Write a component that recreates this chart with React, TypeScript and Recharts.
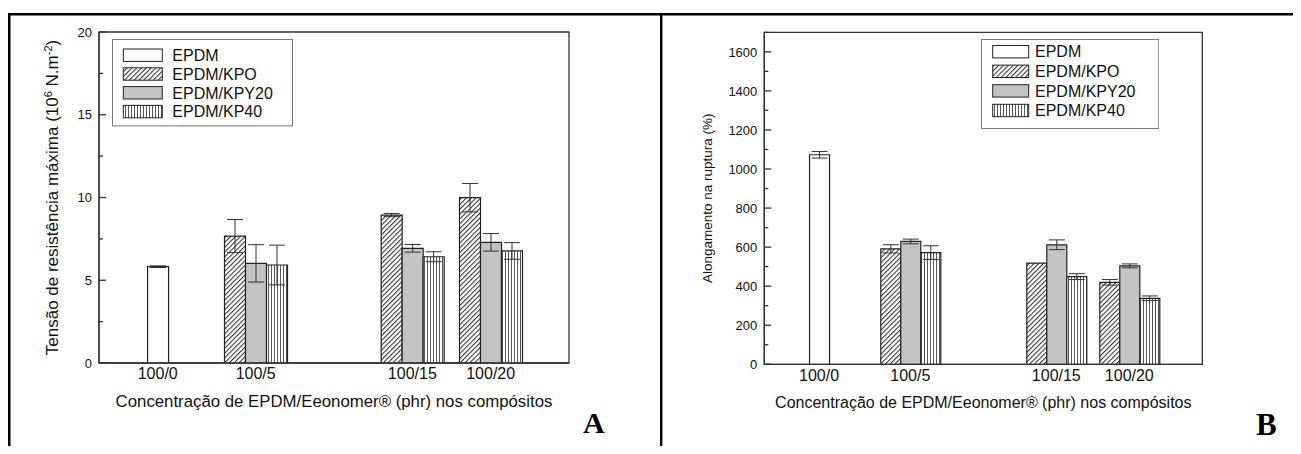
import React from 'react';
import { BarChart, Bar, XAxis, YAxis, ErrorBar, Legend, ReferenceArea } from 'recharts';

// groups on the x axis (positions, axis runs 0..12)
const categories = ['100/0', '100/5', '100/15', '100/20'];
const groupPositions = [1.5, 4, 8, 10];

const seriesNames = ['EPDM', 'EPDM/KPO', 'EPDM/KPY20', 'EPDM/KP40'];

// A: tensão de resistência máxima (10^6 N.m^-2)
const tensaoEPDM = [5.82, null, null, null];
const tensaoEPDMErr = [0.05, null, null, null];
const tensaoKPO = [null, 7.67, 8.94, 9.99];
const tensaoKPOErr = [null, 1.0, 0.1, 0.86];
const tensaoKPY20 = [null, 6.02, 6.93, 7.29];
const tensaoKPY20Err = [null, 1.13, 0.23, 0.53];
const tensaoKP40 = [null, 5.92, 6.42, 6.77];
const tensaoKP40Err = [null, 1.2, 0.3, 0.5];
const yTicksA = [0, 2.5, 5, 7.5, 10, 12.5, 15, 17.5, 20];

// B: alongamento na ruptura (%)
const alongEPDM = [1073, null, null, null];
const alongEPDMErr = [17, null, null, null];
const alongKPO = [null, 591, 518, 420];
const alongKPOErr = [null, 21, null, 14];
const alongKPY20 = [null, 629, 612, 504];
const alongKPY20Err = [null, 12, 25, 10];
const alongKP40 = [null, 572, 449, 338];
const alongKP40Err = [null, 35, 15, 12];
const yTicksB = [0, 100, 200, 300, 400, 500, 600, 700, 800, 900, 1000, 1100, 1200, 1300, 1400, 1500, 1600, 1700];

const xTitle = 'Concentração de EPDM/Eeonomer® (phr) nos compósitos';
const FONT = "Arial, 'Liberation Sans', sans-serif";
const TICK_MARGIN = 7;

function buildRows(vals: (number | null)[][], errs: (number | null)[][]) {
  return categories.map((cat, i) => ({
    cat,
    pos: groupPositions[i],
    epdm: vals[0][i],
    epdmErr: errs[0][i],
    kpo: vals[1][i],
    kpoErr: errs[1][i],
    kpy20: vals[2][i],
    kpy20Err: errs[2][i],
    kp40: vals[3][i],
    kp40Err: errs[3][i],
  }));
}

const dataA = buildRows(
  [tensaoEPDM, tensaoKPO, tensaoKPY20, tensaoKP40],
  [tensaoEPDMErr, tensaoKPOErr, tensaoKPY20Err, tensaoKP40Err]
);
const dataB = buildRows(
  [alongEPDM, alongKPO, alongKPY20, alongKP40],
  [alongEPDMErr, alongKPOErr, alongKPY20Err, alongKP40Err]
);

// labels for the major ticks, short inward marks for every tick
function YTick(props: any) {
  const { x, y, payload, majorStep } = props;
  const v = payload.value;
  const major = Math.abs(v / majorStep - Math.round(v / majorStep)) < 1e-6;
  const ax = Number(x) + TICK_MARGIN;
  return (
    <g>
      <path d={`M${ax},${y}h${major ? 7 : 4}`} stroke="#333" strokeWidth={1.3} fill="none" />
      {major && (
        <text x={x} y={y} dy="0.36em" textAnchor="end" fontSize={13} fontFamily={FONT} fill="#111">
          {v}
        </text>
      )}
    </g>
  );
}

function LegendBox({ cfg, fills }: any) {
  return (
    <svg width={cfg.w} height={cfg.h} style={{ display: 'block' }}>
      <rect x={0.5} y={0.5} width={cfg.w - 1} height={cfg.h - 1} fill="#fff" stroke="#777" />
      {seriesNames.map((n, i) => {
        const cy = cfg.firstRow + i * cfg.rowGap;
        return (
          <g key={n}>
            <rect x={cfg.swX} y={cy - 6.2} width={cfg.swW} height={12.4} fill={fills[i]} stroke="#222" strokeWidth={1} />
            <text x={cfg.textX} y={cy} dy="0.36em" fontSize={16} fontFamily={FONT} fill="#111">
              {n}
            </text>
          </g>
        );
      })}
    </svg>
  );
}

function Panel({ id, data, width, margin, yMax, yTicks, majorStep, barSize, yLabel, yLabelX, yLabelSize, xTitleSize, legend }: any) {
  const fills = ['#fff', `url(#diag-${id})`, '#c4c4c4', `url(#vert-${id})`];
  return (
    <BarChart width={width} height={454} data={data} margin={margin} barGap={0}>
      <defs>
        <pattern id={`diag-${id}`} width="3.4" height="3.4" patternUnits="userSpaceOnUse" patternTransform="rotate(45)">
          <rect width="3.4" height="3.4" fill="#fff" />
          <line x1="0.5" y1="0" x2="0.5" y2="3.4" stroke="#333" strokeWidth="1.1" />
        </pattern>
        <pattern id={`vert-${id}`} width="3" height="10" patternUnits="userSpaceOnUse">
          <rect width="3" height="10" fill="#fff" />
          <line x1="1.5" y1="0" x2="1.5" y2="10" stroke="#444" strokeWidth="0.9" />
        </pattern>
      </defs>
      <XAxis
        dataKey="pos"
        type="number"
        domain={[0, 12]}
        ticks={groupPositions}
        interval={0}
        allowDataOverflow
        tickFormatter={(v: number) => categories[groupPositions.indexOf(v)]}
        tickLine={false}
        tickSize={0}
        tickMargin={5}
        height={50}
        stroke="#333"
        axisLine={{ stroke: '#333', strokeWidth: 1.3 }}
        tick={{ fontSize: 16, fill: '#111', fontFamily: FONT }}
        label={{
          content: (p: any) => {
            const vb = p.viewBox;
            return (
              <text x={vb.x + vb.width / 2} y={vb.y + 44} textAnchor="middle" fontSize={xTitleSize} fontFamily={FONT} fill="#111">
                {xTitle}
              </text>
            );
          },
        }}
      />
      <YAxis
        type="number"
        domain={[0, yMax]}
        ticks={yTicks}
        interval={0}
        allowDataOverflow
        width={60}
        tickLine={false}
        tickSize={0}
        tickMargin={TICK_MARGIN}
        axisLine={{ stroke: '#333', strokeWidth: 1.3 }}
        tick={(p: any) => <YTick {...p} majorStep={majorStep} />}
        label={{
          content: (p: any) => {
            const vb = p.viewBox;
            const cx = vb.x + yLabelX;
            const cy = vb.y + vb.height / 2;
            return (
              <text x={cx} y={cy} transform={`rotate(-90, ${cx}, ${cy})`} textAnchor="middle" fontSize={yLabelSize} fontFamily={FONT} fill="#111">
                {yLabel}
              </text>
            );
          },
        }}
      />
      <Bar dataKey="kpo" stackId="a" fill={fills[1]} stroke="#222" strokeWidth={1.2} barSize={barSize} isAnimationActive={false}>
        <ErrorBar dataKey="kpoErr" width={8} stroke="#333" strokeWidth={1} />
      </Bar>
      <Bar dataKey="epdm" stackId="b" fill={fills[0]} stroke="#222" strokeWidth={1.2} barSize={barSize} isAnimationActive={false}>
        <ErrorBar dataKey="epdmErr" width={8} stroke="#333" strokeWidth={1} />
      </Bar>
      <Bar dataKey="kpy20" stackId="b" fill={fills[2]} stroke="#222" strokeWidth={1.2} barSize={barSize} isAnimationActive={false}>
        <ErrorBar dataKey="kpy20Err" width={8} stroke="#333" strokeWidth={1} />
      </Bar>
      <Bar dataKey="kp40" stackId="c" fill={fills[3]} stroke="#222" strokeWidth={1.2} barSize={barSize} isAnimationActive={false}>
        <ErrorBar dataKey="kp40Err" width={8} stroke="#333" strokeWidth={1} />
      </Bar>
      <ReferenceArea x1={0} x2={12} y1={0} y2={yMax} fill="none" stroke="#333" strokeWidth={1.3} ifOverflow="visible" />
      <Legend
        layout="vertical"
        align="center"
        verticalAlign="middle"
        wrapperStyle={{ left: legend.left, top: legend.top, width: legend.w, height: legend.h }}
        content={() => <LegendBox cfg={legend} fills={fills} />}
      />
    </BarChart>
  );
}

const yLabelA = (
  <>
    Tensão de resistência máxima (10
    <tspan dy={-6} fontSize={11}>6</tspan>
    <tspan dy={6}> N.m</tspan>
    <tspan dy={-6} fontSize={11}>-2</tspan>
    <tspan dy={6}>)</tspan>
  </>
);

export default function App() {
  return (
    <div style={{ position: 'relative', margin: -8, width: 1301, height: 454, background: '#fff', fontFamily: FONT }}>
      <svg width={1301} height={454} style={{ position: 'absolute', left: 0, top: 0 }}>
        <rect x={8} y={13} width={1293} height={2.5} fill="#000" />
        <rect x={8} y={13} width={2.5} height={441} fill="#000" />
        <rect x={660} y={13} width={2.4} height={441} fill="#000" />
        <text x={583} y={432.5} fontFamily="'Liberation Serif', 'Times New Roman', serif" fontWeight="bold" fontSize={30} fill="#000">
          A
        </text>
        <text x={1256} y={435} fontFamily="'Liberation Serif', 'Times New Roman', serif" fontWeight="bold" fontSize={31} fill="#000">
          B
        </text>
      </svg>
      <div style={{ position: 'absolute', left: 0, top: 0 }}>
        <Panel
          id="a"
          data={dataA}
          width={660}
          margin={{ top: 32, right: 91, bottom: 41, left: 39 }}
          yMax={20}
          yTicks={yTicksA}
          majorStep={5}
          barSize={21}
          yLabel={yLabelA}
          yLabelX={19}
          yLabelSize={17}
          xTitleSize={16.8}
          legend={{ left: 111.7, top: 39.3, w: 181, h: 87.4, firstRow: 16.2, rowGap: 18.8, swX: 11.3, swW: 39, textX: 60.3 }}
        />
      </div>
      <div style={{ position: 'absolute', left: 662, top: 0 }}>
        <Panel
          id="b"
          data={dataB}
          width={639}
          margin={{ top: 32.3, right: 98.7, bottom: 39.7, left: 42.3 }}
          yMax={1700}
          yTicks={yTicksB}
          majorStep={200}
          barSize={20}
          yLabel="Alongamento na ruptura (%)"
          yLabelX={7.5}
          yLabelSize={13.5}
          xTitleSize={16}
          legend={{ left: 319, top: 39.3, w: 178.3, h: 90, firstRow: 12.7, rowGap: 19.6, swX: 11.7, swW: 36, textX: 54 }}
        />
      </div>
    </div>
  );
}
